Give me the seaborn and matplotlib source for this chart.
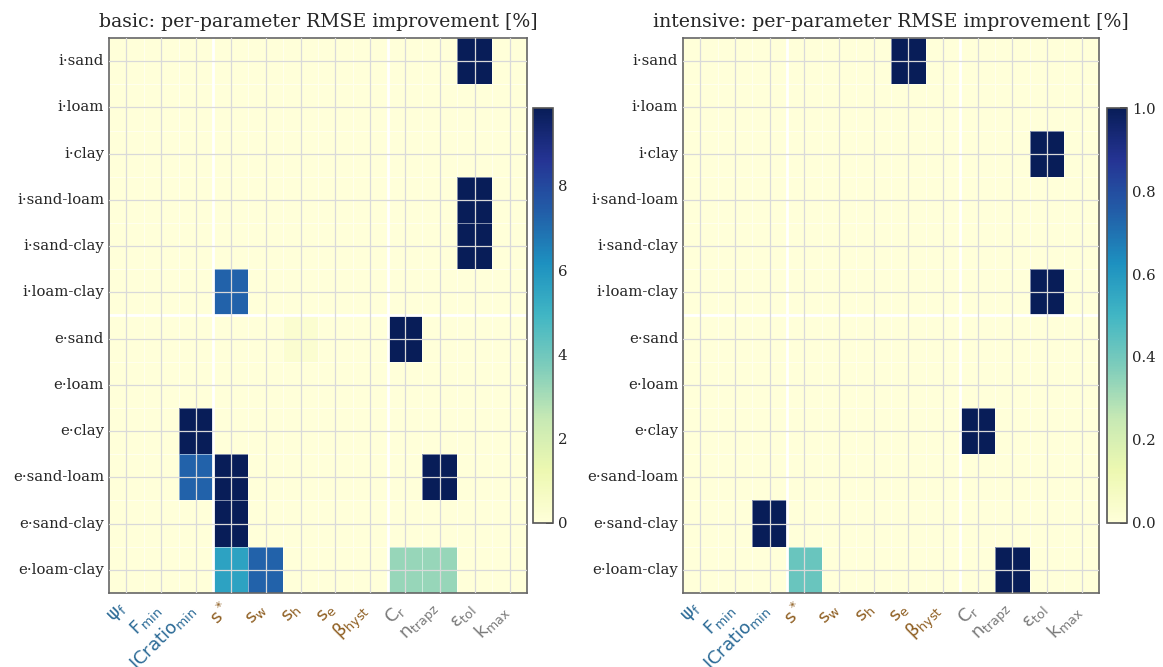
import numpy as np
import pandas as pd
import seaborn as sns
import matplotlib.pyplot as plt
import matplotlib.transforms as mtransforms

sns.set_style("white")
plt.rcParams["font.family"] = ["DejaVu Serif"]
plt.rcParams["mathtext.fontset"] = "dejavusans"

# satır / sütun etiketleri
rows = ["i·sand", "i·loam", "i·clay", "i·sand-loam", "i·sand-clay", "i·loam-clay",
        "e·sand", "e·loam", "e·clay", "e·sand-loam", "e·sand-clay", "e·loam-clay"]
params = [r"$\mathrm{\psi_f}$", r"$\mathrm{F_{min}}$", r"$\mathrm{ICratio_{min}}$",
          r"$\mathrm{s^*}$", r"$\mathrm{s_w}$", r"$\mathrm{s_h}$", r"$\mathrm{s_e}$",
          r"$\mathrm{\beta_{hyst}}$", r"$\mathrm{C_r}$", r"$\mathrm{n_{trapz}}$",
          r"$\mathrm{\varepsilon_{tol}}$", r"$\mathrm{k_{max}}$"]
param_groups = ["blue"] * 3 + ["brown"] * 5 + ["gray"] * 4
group_colors = {"blue": "#2b6a96", "brown": "#8f5f22", "gray": "#7a7a7a"}

# basic: RMSE iyileşmesi [%]
basic = [
    [0, 0, 0,    0,    0,    0,   0, 0, 0,    0,    9.85, 0],
    [0, 0, 0,    0,    0,    0,   0, 0, 0,    0,    0,    0],
    [0, 0, 0,    0,    0,    0,   0, 0, 0,    0,    0,    0],
    [0, 0, 0,    0,    0,    0,   0, 0, 0,    0,    9.85, 0],
    [0, 0, 0,    0,    0,    0,   0, 0, 0,    0,    9.85, 0],
    [0, 0, 0,    7.3,  0,    0,   0, 0, 0,    0,    0,    0],
    [0, 0, 0,    0,    0,    0.3, 0, 0, 9.85, 0,    0,    0],
    [0, 0, 0,    0,    0,    0,   0, 0, 0,    0,    0,    0],
    [0, 0, 9.85, 0,    0,    0,   0, 0, 0,    0,    0,    0],
    [0, 0, 7.3,  9.85, 0,    0,   0, 0, 0,    9.85, 0,    0],
    [0, 0, 0,    9.85, 0,    0,   0, 0, 0,    0,    0,    0],
    [0, 0, 0,    5.6,  7.3,  0,   0, 0, 3.3,  3.3,  0,    0],
]

# intensive
intensive = [
    [0, 0, 0,   0,    0, 0, 1.0, 0, 0,   0,   0,   0],
    [0, 0, 0,   0,    0, 0, 0,   0, 0,   0,   0,   0],
    [0, 0, 0,   0,    0, 0, 0,   0, 0,   0,   1.0, 0],
    [0, 0, 0,   0,    0, 0, 0,   0, 0,   0,   0,   0],
    [0, 0, 0,   0,    0, 0, 0,   0, 0,   0,   0,   0],
    [0, 0, 0,   0,    0, 0, 0,   0, 0,   0,   1.0, 0],
    [0, 0, 0,   0,    0, 0, 0,   0, 0,   0,   0,   0],
    [0, 0, 0,   0,    0, 0, 0,   0, 0,   0,   0,   0],
    [0, 0, 0,   0,    0, 0, 0,   0, 1.0, 0,   0,   0],
    [0, 0, 0,   0,    0, 0, 0,   0, 0,   0,   0,   0],
    [0, 0, 1.0, 0,    0, 0, 0,   0, 0,   0,   0,   0],
    [0, 0, 0,   0.42, 0, 0, 0,   0, 0,   1.0, 0,   0],
]

fig = plt.figure(figsize=(11.63, 6.67), dpi=100)
ax1 = fig.add_axes([0.0937, 0.111, 0.3594, 0.832])
cax1 = fig.add_axes([0.4583, 0.216, 0.0172, 0.622])
ax2 = fig.add_axes([0.5873, 0.111, 0.3577, 0.832])
cax2 = fig.add_axes([0.9519, 0.216, 0.0172, 0.622])

panels = [(ax1, cax1, basic, "basic: per-parameter RMSE improvement [%]", 9.85),
          (ax2, cax2, intensive, "intensive: per-parameter RMSE improvement [%]", 1.0)]

shift = mtransforms.ScaledTranslation(4 / 100, -2 / 100, fig.dpi_scale_trans)

for ax, cax, vals, title, vmax in panels:
    df = pd.DataFrame(vals, index=rows, columns=params)
    sns.heatmap(df, ax=ax, cbar_ax=cax, cmap="YlGnBu", vmin=0, vmax=vmax,
                linewidths=0.5, linecolor=(1, 1, 1, 0.5))
    ax.set_title(title, fontsize=13.6, pad=8)
    ax.grid(True, color="#d9d9d9", lw=0.9)
    ax.set_axisbelow(False)
    # grup ayırıcıları
    ax.axvline(3, color="white", lw=2)
    ax.axvline(8, color="white", lw=2)
    ax.axhline(6, color="white", lw=2)
    for s in ax.spines.values():
        s.set_visible(True)
        s.set_color("#666666")
        s.set_linewidth(1.2)
    ax.tick_params(axis="both", direction="in", length=5, width=1.2, color="#333333")
    ax.tick_params(axis="y", labelsize=10.7, rotation=0)
    ax.set_xticklabels(params, rotation=45, ha="right", fontsize=13)
    for lbl, g in zip(ax.get_xticklabels(), param_groups):
        lbl.set_color(group_colors[g])
        lbl.set_transform(lbl.get_transform() + shift)
    ax.set_xlabel("")
    ax.set_ylabel("")

    cb = ax.collections[0].colorbar
    cb.outline.set_visible(True)
    cb.outline.set_edgecolor("#555555")
    cb.outline.set_linewidth(1.2)
    cb.ax.tick_params(direction="in", length=5, width=1.2, labelsize=10.7, color="#222222")

cax1.set_yticks([0, 2, 4, 6, 8])
cax2.set_yticks([0.0, 0.2, 0.4, 0.6, 0.8, 1.0])

plt.savefig("out.png", dpi=100)
